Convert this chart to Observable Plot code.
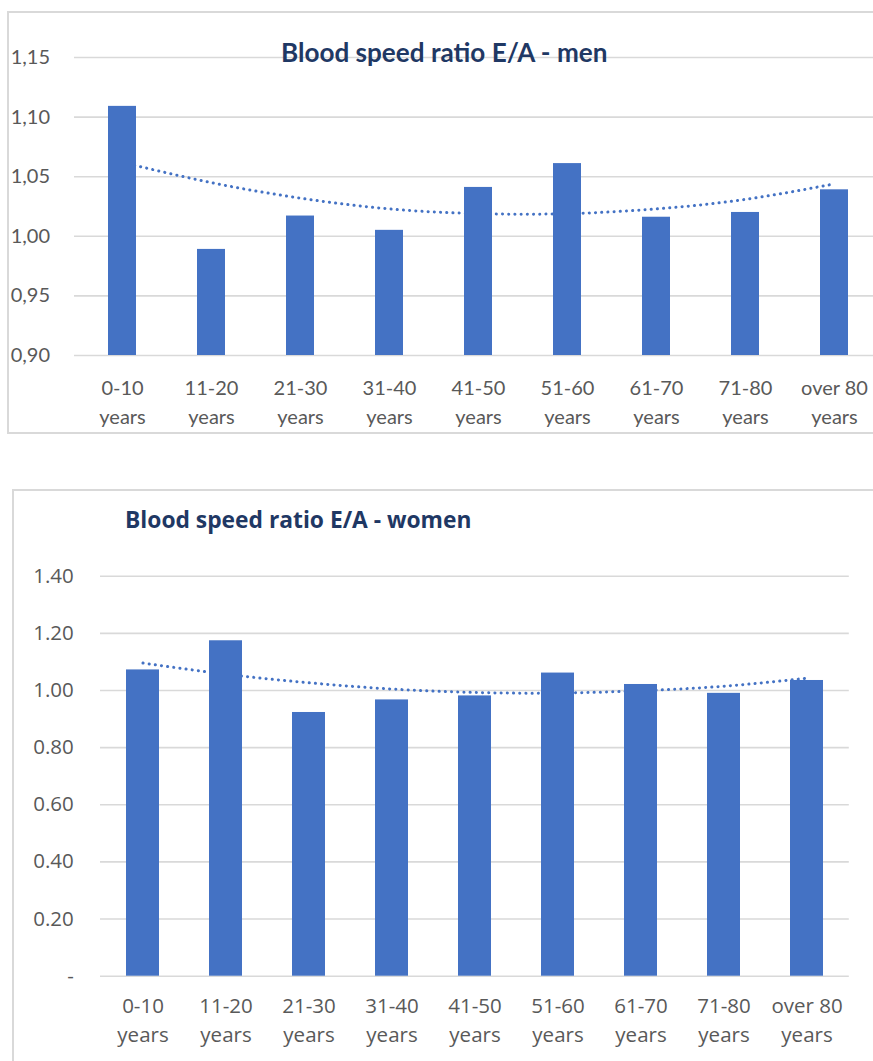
<!DOCTYPE html>
<html>
<head>
<meta charset="utf-8">
<script src="https://cdn.jsdelivr.net/npm/d3@7"></script>
<script src="https://cdn.jsdelivr.net/npm/@observablehq/plot@0.6"></script>
<style>
  html, body { margin: 0; padding: 0; background: #fff; }
  body { width: 873px; height: 1061px; position: relative; overflow: hidden; }
  .frame { position: absolute; border: 2px solid #d9d9d9; border-right: none; box-sizing: border-box; }
  .chart { position: absolute; left: 0; }
  .chart svg { display: block; overflow: visible; max-width: none; background: transparent; }
  .title { position: absolute; font-weight: bold; color: #1f3864; line-height: 1; white-space: nowrap; }
</style>
</head>
<body>
<div class="frame" style="left:7px; top:11px; width:900px; height:423px;"></div>
<div class="frame" style="left:12px; top:489px; width:900px; height:600px;"></div>
<div class="chart" id="men" style="top:0px;"></div>
<div class="chart" id="women" style="top:480px;"></div>
<div class="title" style="left:281px; top:39px; font-family:Lato; font-size:26.1px;">Blood speed ratio E/A - men</div>
<div class="title" style="left:125px; top:509px; font-family:'Open Sans'; font-size:22.8px;">Blood speed ratio E/A - women</div>
<script>
// Age groups shared by both charts
const ageGroups = ["0-10 years", "11-20 years", "21-30 years", "31-40 years", "41-50 years",
                   "51-60 years", "61-70 years", "71-80 years", "over 80 years"];

// E/A blood speed ratio, men
const menRatio = [1.109, 0.989, 1.017, 1.005, 1.041, 1.061, 1.016, 1.020, 1.039];
// Polynomial trend for men, per age group
const menTrend = [1.062, 1.045, 1.032, 1.023, 1.019, 1.019, 1.023, 1.031, 1.044];
const menTicks = [0.90, 0.95, 1.00, 1.05, 1.10, 1.15];

// E/A blood speed ratio, women
const womenRatio = [1.072, 1.174, 0.923, 0.967, 0.981, 1.061, 1.021, 0.990, 1.035];
// Polynomial trend for women, per age group
const womenTrend = [1.096, 1.057, 1.027, 1.005, 0.993, 0.991, 0.999, 1.015, 1.043];
const womenTicks = [0, 0.20, 0.40, 0.60, 0.80, 1.00, 1.20, 1.40];

const barColor = "#4472c4";

function ratioChart(o) {
  const rows = ageGroups.map((age, i) => ({age, ratio: o.ratio[i], trend: o.trend[i]}));
  const base = o.ticks[0];
  return Plot.plot({
    width: 873,
    height: o.height,
    marginTop: o.marginTop,
    marginBottom: o.marginBottom,
    marginLeft: o.marginLeft,
    marginRight: o.marginRight,
    style: {fontFamily: o.font, fontSize: o.fontSize + "px", color: "#595959", background: "transparent", overflow: "visible", maxWidth: "none"},
    x: {domain: ageGroups, paddingInner: o.padding, paddingOuter: o.padding / 2, axis: null, label: null},
    y: {domain: [o.ticks[0], o.ticks[o.ticks.length - 1]], axis: null, label: null},
    marks: [
      Plot.gridY(o.ticks, {stroke: "#d9d9d9", strokeOpacity: 1, strokeWidth: 1.6}),
      Plot.line(rows, {x: "age", y: "trend", curve: "natural", stroke: barColor, strokeWidth: 3,
                       strokeDasharray: "0.1 6.1", strokeLinecap: "round"}),
      Plot.barY(rows, {x: "age", y1: () => base, y2: "ratio", fill: barColor}),
      Plot.axisY(o.ticks, {tickSize: 0, tickPadding: o.yPad, tickFormat: o.yFormat, fill: "#595959", label: null}),
      Plot.axisX({tickSize: 0, tickPadding: o.xPad, lineHeight: o.lineHeight, fill: "#595959", label: null,
                  tickFormat: d => d.replace(/ years$/, "\nyears")})
    ]
  });
}

document.getElementById("men").append(ratioChart({
  ratio: menRatio, trend: menTrend, ticks: menTicks,
  height: 440, marginTop: 57, marginBottom: 85, marginLeft: 74, marginRight: -9,
  padding: 0.69, font: "Lato", fontSize: 20, yPad: 24.5, xPad: 18.8, lineHeight: 1.45,
  yFormat: d => d3.format(".2f")(d).replace(".", ",")
}));

document.getElementById("women").append(ratioChart({
  ratio: womenRatio, trend: womenTrend, ticks: womenTicks,
  height: 581, marginTop: 95.7, marginBottom: 85.3, marginLeft: 100, marginRight: 24.2,
  padding: 0.6, font: "Open Sans", fontSize: 20.5, yPad: 26.7, xPad: 16.7, lineHeight: 1.4,
  yFormat: d => d === 0 ? "-" : d3.format(".2f")(d)
}));
</script>
</body>
</html>
